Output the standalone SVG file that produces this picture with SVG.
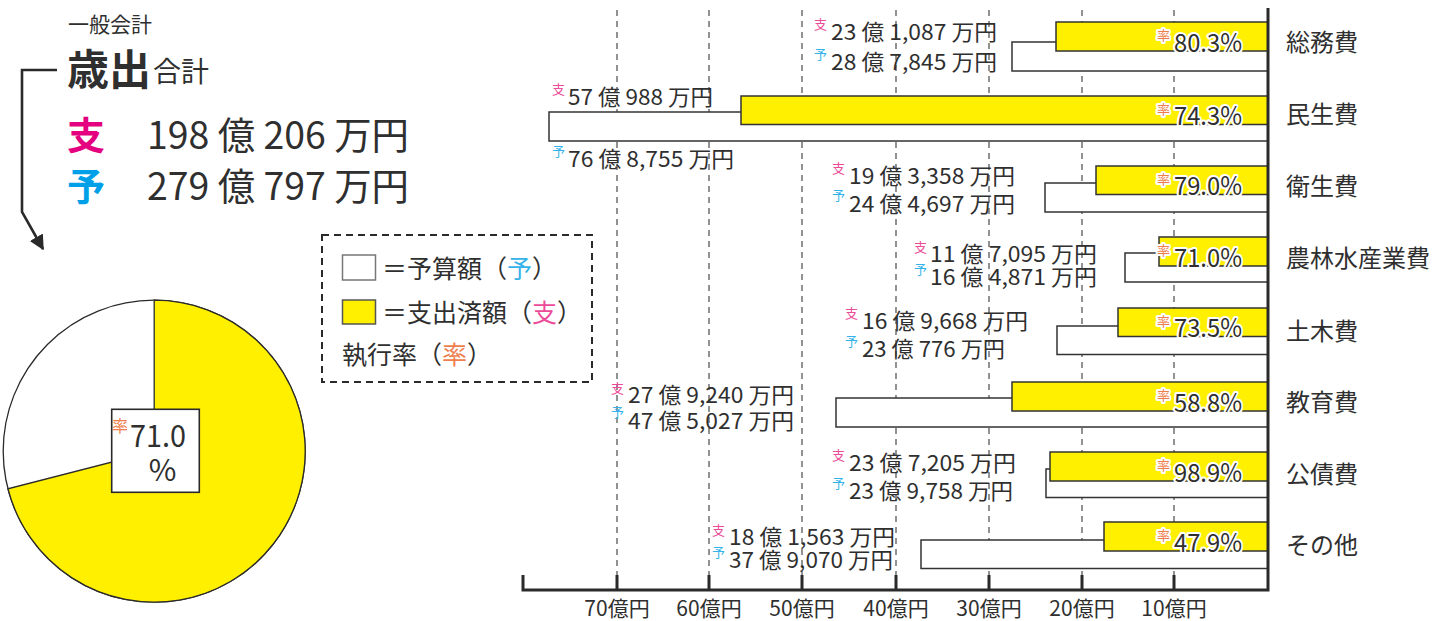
<svg xmlns="http://www.w3.org/2000/svg" width="1448" height="621" viewBox="0 0 1448 621">
<style>
.t{font-family:"Noto Sans CJK JP","Noto Sans",sans-serif;fill:#2f2f2f}
.amt{font-size:22px}
.cat{font-size:24px}
.tk{font-size:21px;text-anchor:middle}
.sm{font-size:13px}
.shi{fill:#ec4b98}
.yo{fill:#35b2ea}
.rt{fill:#ef7e4e}
.halo{stroke:#fff;stroke-width:4;paint-order:stroke;stroke-linejoin:round}
.rate{font-size:25px}
.ybar{fill:#fff000;stroke:#333;stroke-width:1.5}
.wbar{fill:#fff;stroke:#333;stroke-width:1.5}
.grid{stroke:#4a4a4a;stroke-width:1.2;stroke-dasharray:6 5;fill:none}
.axis{stroke:#2a2a2a;stroke-width:3;fill:none}
</style>
<defs>
<marker id="ah" viewBox="0 0 10 10" refX="9" refY="5" markerUnits="userSpaceOnUse" markerWidth="15" markerHeight="20" orient="auto">
<path d="M0,0 L10,5 L0,10 z" fill="#2a2a2a"/>
</marker>
</defs>
<rect width="1448" height="621" fill="#fff"/>

<g id="header">
<text class="t" x="68" y="32" font-size="21">一般会計</text>
<text class="t" x="67" y="85" font-size="42" font-weight="700">歳出</text>
<text class="t" x="153" y="82" font-size="28">合計</text>
<text class="t" x="67" y="149" font-size="38" font-weight="700" style="fill:#e4007f">支</text>
<text class="t" x="147" y="149" font-size="38" textLength="262" lengthAdjust="spacingAndGlyphs">198 億 206 万円</text>
<text class="t" x="67" y="200" font-size="38" font-weight="700" style="fill:#00a0e9">予</text>
<text class="t" x="147" y="200" font-size="38" textLength="262" lengthAdjust="spacingAndGlyphs">279 億 797 万円</text>
</g>

<g id="connectors">
<path d="M57,70 L22,70 L22,212 L43,249" fill="none" stroke="#2a2a2a" stroke-width="2.6" marker-end="url(#ah)"/>
</g>

<g id="legend">
<rect x="322" y="235" width="270" height="147" fill="none" stroke="#2a2a2a" stroke-width="2" stroke-dasharray="7 5"/>
<rect x="342.5" y="255" width="33" height="25" fill="#fff" stroke="#777" stroke-width="1.5"/>
<rect x="342.5" y="300" width="33" height="24" fill="#fff000" stroke="#555" stroke-width="1.5"/>
<text class="t" x="382" y="278" font-size="25">＝予算額（<tspan class="yo">予</tspan>）</text>
<text class="t" x="382" y="322" font-size="25">＝支出済額（<tspan class="shi">支</tspan>）</text>
<text class="t" x="342" y="364" font-size="25">執行率（<tspan class="rt">率</tspan>）</text>
</g>

<g id="pie">
<circle cx="154.2" cy="451.2" r="151" fill="#fff" stroke="#2a2a2a" stroke-width="1.3"/>
<path d="M154.2,451.2 L154.2,300.2 A151,151 0 1 1 7.94,488.75 Z" fill="#fff000" stroke="#2a2a2a" stroke-width="1.3"/>
<rect x="111.7" y="409.3" width="87.6" height="83" fill="#fff" stroke="#2a2a2a" stroke-width="1.6"/>
<text class="t rt" x="112" y="432" font-size="16">率</text>
<text class="t" x="130" y="447" font-size="30" textLength="56" lengthAdjust="spacingAndGlyphs">71.0</text>
<text class="t" x="162.5" y="481" font-size="30" text-anchor="middle">%</text>
</g>

<g id="grid">
<line class="grid" x1="617" y1="10" x2="617" y2="576"/>
<line class="grid" x1="709" y1="10" x2="709" y2="576"/>
<line class="grid" x1="802" y1="10" x2="802" y2="576"/>
<line class="grid" x1="896" y1="10" x2="896" y2="576"/>
<line class="grid" x1="989" y1="10" x2="989" y2="576"/>
<line class="grid" x1="1082" y1="10" x2="1082" y2="576"/>
<line class="grid" x1="1174" y1="10" x2="1174" y2="576"/>
</g>

<g id="row-soumu">
<rect class="wbar" x="1012" y="42" width="256" height="29"/>
<rect class="ybar" x="1056" y="22" width="212" height="29"/>
<text class="t sm shi" x="814" y="29">支</text>
<text class="t amt" x="831" y="40" textLength="166" lengthAdjust="spacingAndGlyphs">23 億 1,087 万円</text>
<text class="t sm yo" x="814" y="59">予</text>
<text class="t amt" x="831" y="70" textLength="166" lengthAdjust="spacingAndGlyphs">28 億 7,845 万円</text>
<text class="t sm rt halo" x="1157" y="40">率</text>
<text class="t rate halo" x="1174" y="52" textLength="68" lengthAdjust="spacingAndGlyphs">80.3%</text>
<text class="t cat" x="1286" y="51">総務費</text>
</g>

<g id="row-minsei">
<rect class="wbar" x="549" y="112" width="719" height="29"/>
<rect class="ybar" x="741" y="96" width="527" height="28.5"/>
<text class="t sm shi" x="552" y="94">支</text>
<text class="t amt" x="568" y="105" textLength="145" lengthAdjust="spacingAndGlyphs">57 億 988 万円</text>
<text class="t sm yo" x="552" y="156">予</text>
<text class="t amt" x="568" y="167" textLength="166" lengthAdjust="spacingAndGlyphs">76 億 8,755 万円</text>
<text class="t sm rt halo" x="1157" y="114">率</text>
<text class="t rate halo" x="1174" y="125" textLength="68" lengthAdjust="spacingAndGlyphs">74.3%</text>
<text class="t cat" x="1286" y="123">民生費</text>
</g>

<g id="row-eisei">
<rect class="wbar" x="1045" y="183" width="223" height="29"/>
<rect class="ybar" x="1096" y="166" width="172" height="28.5"/>
<text class="t sm shi" x="832" y="173">支</text>
<text class="t amt" x="849" y="184" textLength="166" lengthAdjust="spacingAndGlyphs">19 億 3,358 万円</text>
<text class="t sm yo" x="832" y="200">予</text>
<text class="t amt" x="849" y="212" textLength="166" lengthAdjust="spacingAndGlyphs">24 億 4,697 万円</text>
<text class="t sm rt halo" x="1157" y="184">率</text>
<text class="t rate halo" x="1174" y="195" textLength="68" lengthAdjust="spacingAndGlyphs">79.0%</text>
<text class="t cat" x="1286" y="195">衛生費</text>
</g>

<g id="row-nourin">
<rect class="wbar" x="1125" y="253" width="143" height="29"/>
<rect class="ybar" x="1159" y="237" width="109" height="29"/>
<text class="t sm shi" x="914" y="252">支</text>
<text class="t amt" x="930" y="262" textLength="167" lengthAdjust="spacingAndGlyphs">11 億 7,095 万円</text>
<text class="t sm yo" x="914" y="274">予</text>
<text class="t amt" x="930" y="285" textLength="167" lengthAdjust="spacingAndGlyphs">16 億 4,871 万円</text>
<text class="t sm rt halo" x="1157" y="255">率</text>
<text class="t rate halo" x="1174" y="267" textLength="68" lengthAdjust="spacingAndGlyphs">71.0%</text>
<text class="t cat" x="1286" y="267">農林水産業費</text>
</g>

<g id="row-doboku">
<rect class="wbar" x="1057" y="326" width="211" height="28.5"/>
<rect class="ybar" x="1118" y="308" width="150" height="28.5"/>
<text class="t sm shi" x="845" y="318">支</text>
<text class="t amt" x="862" y="329" textLength="166" lengthAdjust="spacingAndGlyphs">16 億 9,668 万円</text>
<text class="t sm yo" x="845" y="346">予</text>
<text class="t amt" x="862" y="357" textLength="143" lengthAdjust="spacingAndGlyphs">23 億 776 万円</text>
<text class="t sm rt halo" x="1157" y="326">率</text>
<text class="t rate halo" x="1174" y="337" textLength="68" lengthAdjust="spacingAndGlyphs">73.5%</text>
<text class="t cat" x="1286" y="340">土木費</text>
</g>

<g id="row-kyouiku">
<rect class="wbar" x="836" y="398" width="432" height="29"/>
<rect class="ybar" x="1012" y="382" width="256" height="29"/>
<text class="t sm shi" x="611" y="393">支</text>
<text class="t amt" x="628" y="403" textLength="166" lengthAdjust="spacingAndGlyphs">27 億 9,240 万円</text>
<text class="t sm yo" x="611" y="417">予</text>
<text class="t amt" x="628" y="429" textLength="166" lengthAdjust="spacingAndGlyphs">47 億 5,027 万円</text>
<text class="t sm rt halo" x="1157" y="400">率</text>
<text class="t rate halo" x="1174" y="412" textLength="68" lengthAdjust="spacingAndGlyphs">58.8%</text>
<text class="t cat" x="1286" y="411">教育費</text>
</g>

<g id="row-kousai">
<rect class="wbar" x="1046" y="469" width="222" height="28.5"/>
<rect class="ybar" x="1050" y="452" width="218" height="29"/>
<text class="t sm shi" x="832" y="460">支</text>
<text class="t amt" x="849" y="471" textLength="167" lengthAdjust="spacingAndGlyphs">23 億 7,205 万円</text>
<text class="t sm yo" x="832" y="488">予</text>
<text class="t amt" x="849" y="499" textLength="164" lengthAdjust="spacingAndGlyphs">23 億 9,758 万円</text>
<text class="t sm rt halo" x="1157" y="470">率</text>
<text class="t rate halo" x="1174" y="482" textLength="68" lengthAdjust="spacingAndGlyphs">98.9%</text>
<text class="t cat" x="1286" y="483">公債費</text>
</g>

<g id="row-sonota">
<rect class="wbar" x="921" y="540" width="347" height="28.5"/>
<rect class="ybar" x="1104" y="522" width="164" height="29"/>
<text class="t sm shi" x="712" y="535">支</text>
<text class="t amt" x="729" y="545" textLength="166" lengthAdjust="spacingAndGlyphs">18 億 1,563 万円</text>
<text class="t sm yo" x="712" y="557">予</text>
<text class="t amt" x="729" y="568" textLength="164" lengthAdjust="spacingAndGlyphs">37 億 9,070 万円</text>
<text class="t sm rt halo" x="1157" y="540">率</text>
<text class="t rate halo" x="1174" y="552" textLength="68" lengthAdjust="spacingAndGlyphs">47.9%</text>
<text class="t cat" x="1286" y="554">その他</text>
</g>

<g id="axis">
<path class="axis" d="M1268,8 L1268,590 L523,590 L523,575"/>
<path class="axis" d="M617,575 V590 M709,575 V590 M802,575 V590 M896,575 V590 M989,575 V590 M1082,575 V590 M1174,575 V590"/>
<text class="t tk" x="617" y="616">70億円</text>
<text class="t tk" x="709" y="616">60億円</text>
<text class="t tk" x="802" y="616">50億円</text>
<text class="t tk" x="896" y="616">40億円</text>
<text class="t tk" x="989" y="616">30億円</text>
<text class="t tk" x="1082" y="616">20億円</text>
<text class="t tk" x="1174" y="616">10億円</text>
</g>
</svg>
